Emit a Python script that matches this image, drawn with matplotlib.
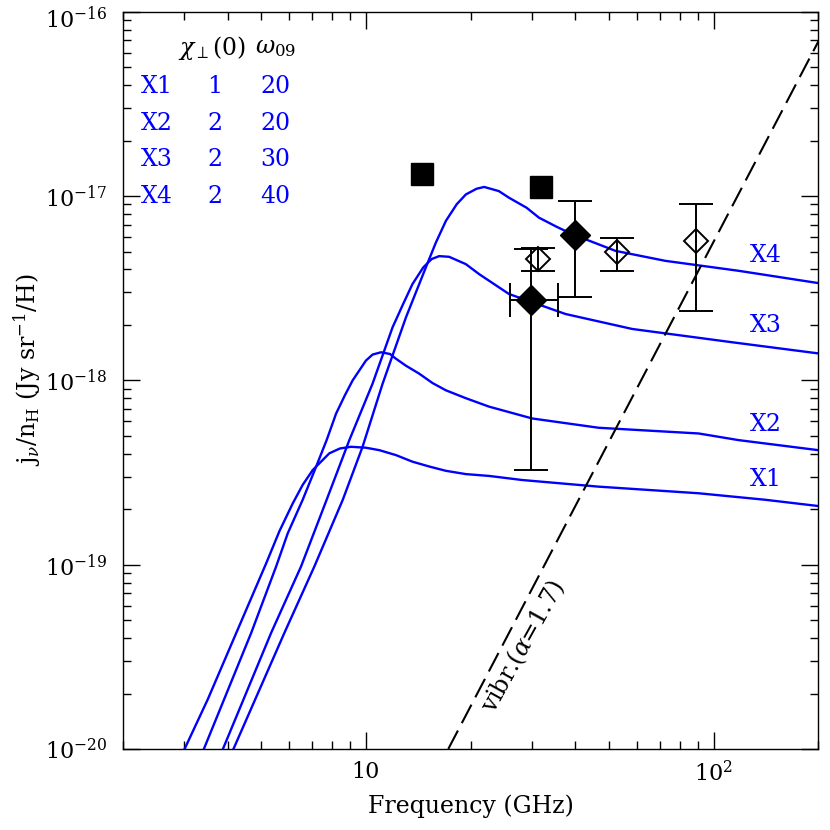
import numpy as np
import matplotlib
matplotlib.use("Agg")
import matplotlib.pyplot as plt
import matplotlib.transforms as mtransforms
from matplotlib.ticker import FuncFormatter, NullFormatter, FixedLocator, LogFormatterMathtext

plt.rcParams["font.family"] = ["DejaVu Serif"]
plt.rcParams["mathtext.fontset"] = "dejavuserif"

# model curves (frequency in GHz, emissivity in Jy sr^-1 / H)
x1_freq = [3.01, 3.51, 4.24, 5.17, 5.64, 6.16, 6.58, 7.03, 7.85, 8.42, 9.06, 10.0,
           10.93, 12.2, 13.61, 15.28, 16.98, 19.38, 22.6, 28.1, 46.7, 90.5, 140.6, 200]
x1_emis = [1.0e-20, 1.86e-20, 4.27e-20, 1.02e-19, 1.52e-19, 2.15e-19, 2.71e-19,
           3.26e-19, 4.02e-19, 4.27e-19, 4.36e-19, 4.31e-19, 4.18e-19, 3.93e-19,
           3.62e-19, 3.40e-19, 3.23e-19, 3.10e-19, 3.03e-19, 2.88e-19, 2.65e-19,
           2.44e-19, 2.25e-19, 2.08e-19]

x2_freq = [3.42, 4.68, 5.52, 5.96, 6.58, 7.19, 7.71, 8.21, 8.70, 9.16, 10.0, 10.45,
           11.05, 11.73, 12.2, 13.04, 14.23, 15.54, 16.98, 19.38, 22.6, 30.08, 46.7,
           90.5, 117.9, 200]
x2_emis = [1.0e-20, 4.27e-20, 9.79e-20, 1.48e-19, 2.25e-19, 3.40e-19, 4.74e-19,
           6.61e-19, 8.3e-19, 1.0e-18, 1.28e-18, 1.38e-18, 1.42e-18, 1.39e-18,
           1.31e-18, 1.2e-18, 1.087e-18, 9.67e-19, 8.83e-19, 8.0e-19, 7.2e-19,
           6.21e-19, 5.53e-19, 5.15e-19, 4.74e-19, 4.18e-19]

x3_freq = [3.88, 5.34, 6.51, 7.71, 8.96, 10.45, 11.93, 12.8, 13.61, 14.62, 15.45,
           16.24, 17.35, 19.38, 21.16, 22.6, 25.79, 37.5, 58.3, 112.8, 200]
x3_emis = [1.0e-20, 4.27e-20, 9.79e-20, 2.25e-19, 4.74e-19, 9.6e-19, 1.94e-18,
           2.6e-18, 3.33e-18, 4.1e-18, 4.55e-18, 4.72e-18, 4.68e-18, 4.27e-18,
           3.77e-18, 3.47e-18, 2.94e-18, 2.29e-18, 1.90e-18, 1.61e-18, 1.40e-18]

x4_freq = [4.16, 5.83, 7.11, 8.58, 9.78, 11.17, 13.04, 14.87, 15.89, 16.98, 18.24,
           19.38, 20.8, 21.87, 24.1, 25.79, 28.97, 31.45, 35.4, 39.2, 52.2, 72.6,
           117.9, 200]
x4_emis = [1.0e-20, 4.27e-20, 9.79e-20, 2.25e-19, 4.36e-19, 9.6e-19, 2.2e-18,
           4.1e-18, 5.59e-18, 7.33e-18, 9.02e-18, 1.02e-17, 1.095e-17, 1.12e-17,
           1.064e-17, 9.79e-18, 8.64e-18, 7.63e-18, 6.8e-18, 6.21e-18, 5.04e-18,
           4.45e-18, 3.93e-18, 3.37e-18]

# vibrational emission line
vib_freq = [17.25, 200]
vib_emis = [1.0e-20, 6.9e-17]

# observations
sq_freq = [14.5, 31.8]
sq_emis = [1.32e-17, 1.12e-17]

fd_freq = [29.9, 39.8]
fd_emis = [2.74e-18, 6.15e-18]
fd_low = [3.26e-19, 2.85e-18]
fd_high = [5.15e-18, 9.39e-18]
fd_xlow = [25.96, 39.8]
fd_xhigh = [35.7, 39.8]

od_freq = [31.3, 52.8, 89.1]
od_emis = [4.58e-18, 4.94e-18, 5.71e-18]
od_low = [3.93e-18, 3.93e-18, 2.37e-18]
od_high = [5.22e-18, 5.95e-18, 9.02e-18]

labels = ["X1", "X2", "X3", "X4"]
chi_perp = ["1", "2", "2", "2"]
omega09 = ["20", "20", "30", "40"]

x_major = [10, 100]
x_minor = [2, 3, 4, 5, 6, 7, 8, 9, 20, 30, 40, 50, 60, 70, 80, 90, 200]
y_major = [1e-20, 1e-19, 1e-18, 1e-17, 1e-16]

fig = plt.figure(figsize=(8.3, 8.3), dpi=100)
ax = fig.add_axes([0.148, 0.0976, 0.838, 0.8883])

blue = "#0000ff"
for fx, fy in [(x1_freq, x1_emis), (x2_freq, x2_emis), (x3_freq, x3_emis), (x4_freq, x4_emis)]:
    ax.plot(fx, fy, color=blue, lw=1.7, solid_joinstyle="round")

ax.plot(vib_freq, vib_emis, color="black", lw=1.5, dashes=(10, 4))

ax.plot(sq_freq, sq_emis, "s", color="black", ms=16)

fd_y = np.array(fd_emis)
fd_x = np.array(fd_freq)
ax.errorbar(fd_x, fd_y,
            yerr=[fd_y - np.array(fd_low), np.array(fd_high) - fd_y],
            xerr=[fd_x - np.array(fd_xlow), np.array(fd_xhigh) - fd_x],
            fmt="D", color="black", ms=15.5, lw=1.4, capsize=12, capthick=1.4)

od_y = np.array(od_emis)
ax.errorbar(od_freq, od_y,
            yerr=[od_y - np.array(od_low), np.array(od_high) - od_y],
            fmt="D", color="black", mfc="none", mew=1.4, ms=12.5,
            lw=1.4, capsize=12, capthick=1.4)

ax.set_xscale("log")
ax.set_yscale("log")
ax.set_xlim(2, 200)
ax.set_ylim(1e-20, 1e-16)

ax.xaxis.set_major_locator(FixedLocator(x_major))
ax.xaxis.set_minor_locator(FixedLocator(x_minor))
ax.xaxis.set_major_formatter(FuncFormatter(lambda v, p: "10" if abs(v - 10) < 1 else "$10^2$"))
ax.xaxis.set_minor_formatter(NullFormatter())
ax.yaxis.set_major_locator(FixedLocator(y_major))
ax.yaxis.set_minor_locator(FixedLocator([m * 10.0 ** e for e in range(-20, -16) for m in range(2, 10)]))
ax.yaxis.set_major_formatter(LogFormatterMathtext())
ax.yaxis.set_minor_formatter(NullFormatter())

ax.tick_params(which="both", direction="in", top=True, right=True, width=1, labelsize=16)
ax.tick_params(which="major", length=12)
ax.tick_params(which="minor", length=6)
ax.tick_params(axis="x", pad=9)
ax.tick_params(axis="y", pad=11)
for s in ax.spines.values():
    s.set_linewidth(1)

ax.set_xlabel("Frequency (GHz)", fontsize=17)
ax.set_ylabel(r"j$_\nu$/n$_{\rm H}$ (Jy sr$^{-1}$/H)", fontsize=17)
ax.xaxis.set_label_coords(0.5, -0.062)
ax.yaxis.set_label_coords(-0.115, 0.515)

# keep the top tick label inside the canvas
fig.canvas.draw()
top_lab = ax.yaxis.get_majorticklabels()[-1]
top_lab.set_transform(top_lab.get_transform() + mtransforms.ScaledTranslation(0, -4 / 72, fig.dpi_scale_trans))

# parameter table
ax.text(0.128, 0.951, r"$\chi_{\perp}$(0)", transform=ax.transAxes, fontsize=17, ha="center", va="center")
ax.text(0.220, 0.951, r"$\omega_{\rm 09}$", transform=ax.transAxes, fontsize=17, ha="center", va="center")
row_y = [0.898, 0.849, 0.799, 0.749]
for lab, c, w, yy in zip(labels, chi_perp, omega09, row_y):
    ax.text(0.049, yy, lab, transform=ax.transAxes, fontsize=17, color=blue, ha="center", va="center")
    ax.text(0.132, yy, c, transform=ax.transAxes, fontsize=17, color=blue, ha="center", va="center")
    ax.text(0.219, yy, w, transform=ax.transAxes, fontsize=17, color=blue, ha="center", va="center")

# curve labels
for lab, yy in zip(labels, [0.3658, 0.4405, 0.574, 0.669]):
    ax.text(0.9245, yy, lab, transform=ax.transAxes, fontsize=17, color=blue, ha="center", va="center")

ax.text(28.3, 3.6e-20, r"vibr.($\alpha$=1.7)", fontsize=17, rotation=61,
        ha="center", va="center", rotation_mode="anchor")

fig.savefig("out.png", dpi=100)
